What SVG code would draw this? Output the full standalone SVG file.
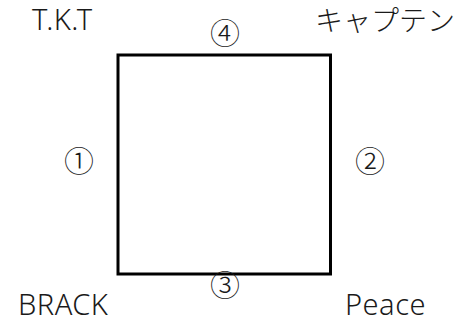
<svg xmlns="http://www.w3.org/2000/svg" width="464" height="323" viewBox="0 0 464 323">
<style>
.lat{font-family:"Noto Sans","Noto Sans CJK JP",sans-serif;font-size:29px;font-weight:350;fill:#1a1a1a;letter-spacing:0.5px}
.jp{font-family:"Noto Sans CJK JP",sans-serif;font-size:28px;font-weight:300;fill:#1a1a1a}
.num{font-family:"Noto Sans CJK JP",sans-serif;font-size:30px;font-weight:300;fill:#1a1a1a;text-anchor:middle}
.box{fill:none;stroke:#000;stroke-width:3}
</style>
<rect width="464" height="323" fill="#fff"/>
<g id="square"><rect class="box" x="118" y="55" width="212.5" height="219"/></g>
<g id="connectors"></g>
<g id="label-tkt"><text class="lat" x="32" y="30">T.K.T</text></g>
<g id="label-captain"><text class="jp" x="315" y="31">キャプテン</text></g>
<g id="label-brack"><text class="lat" x="18" y="315">BRACK</text></g>
<g id="label-peace"><text class="lat" x="345" y="315">Peace</text></g>
<g id="n1"><text class="num" x="79" y="172">①</text></g>
<g id="n2"><text class="num" x="370" y="172">②</text></g>
<g id="n3"><text class="num" x="225" y="296">③</text></g>
<g id="n4"><text class="num" x="225" y="44">④</text></g>
</svg>
